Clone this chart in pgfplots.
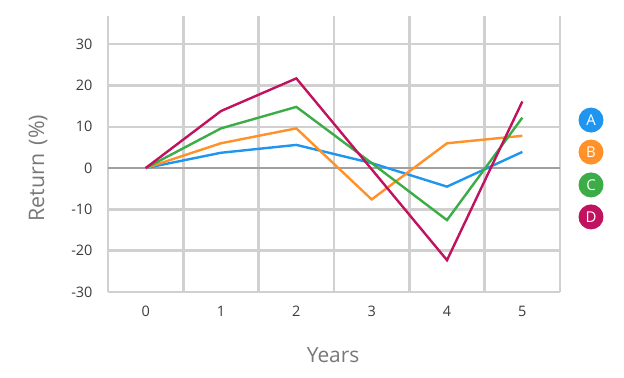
\documentclass[border=0pt]{standalone}
\usepackage{fontspec}
\setmainfont{Open Sans}
\usepackage{pgfplots}
\pgfplotsset{compat=1.18}
\definecolor{cA}{RGB}{30,150,240}
\definecolor{cB}{RGB}{255,145,40}
\definecolor{cC}{RGB}{60,172,70}
\definecolor{cD}{RGB}{192,18,95}
\definecolor{gridgray}{RGB}{208,208,208}
\definecolor{zerogray}{RGB}{160,160,160}
\definecolor{tickgray}{RGB}{60,60,60}
\definecolor{labgray}{RGB}{120,120,120}
\begin{document}
\begin{tikzpicture}
\useasboundingbox (0,0) rectangle (624bp,378bp);
\begin{axis}[
  at={(108bp,86bp)}, anchor=south west,
  scale only axis, width=452bp, height=276bp,
  xmin=-0.5, xmax=5.5, ymin=-30, ymax=36.8,
  xtick={0,...,5}, ytick={-30,-20,...,30},
  minor xtick={-0.5,0.5,...,5.5},
  xminorgrids=true, ymajorgrids=true, xmajorgrids=false,
  grid style={line width=2.4bp, color=gridgray},
  minor grid style={line width=2.4bp, color=gridgray},
  extra y ticks={0}, extra y tick labels={},
  extra y tick style={grid style={line width=2.4bp, color=zerogray}},
  axis line style={draw=none},
  tick style={draw=none},
  major tick length=0pt, minor tick length=0pt,
  /pgf/number format/assume math mode=true,
  ticklabel style={font=\fontsize{14.5}{16}\selectfont, text=tickgray},
  yticklabel style={xshift=-12bp},
  xticklabel style={yshift=-11bp},
  every axis y label/.style={at={(axis description cs:-0.155,0.449)}, rotate=90, anchor=center, font=\fontsize{21.5}{24}\selectfont, text=labgray},
  every axis x label/.style={at={(axis description cs:0.498,-0.228)}, anchor=center, font=\fontsize{21}{24}\selectfont, text=labgray},
  ylabel={Return\hspace{0.4em}(\%)},
  xlabel={Years},
  clip=false,
]
\addplot[cA, line width=2.4bp] coordinates {(0,0) (1,3.7) (2,5.6) (3,1.2) (4,-4.5) (5,3.9)};
\addplot[cB, line width=2.4bp] coordinates {(0,0) (1,6.0) (2,9.6) (3,-7.6) (4,6.0) (5,7.8)};
\addplot[cC, line width=2.4bp] coordinates {(0,0) (1,9.6) (2,14.8) (3,1.2) (4,-12.6) (5,12.2)};
\addplot[cD, line width=2.4bp] coordinates {(0,0) (1,13.8) (2,21.7) (3,-0.3) (4,-22.3) (5,16.1)};
\node[circle, fill=cA, minimum size=25bp, inner sep=0pt, text=white, font=\fontsize{15}{16}\selectfont] at (axis description cs:1.0686,0.623) {A};
\node[circle, fill=cB, minimum size=25bp, inner sep=0pt, text=white, font=\fontsize{15}{16}\selectfont] at (axis description cs:1.0686,0.507) {B};
\node[circle, fill=cC, minimum size=25bp, inner sep=0pt, text=white, font=\fontsize{15}{16}\selectfont] at (axis description cs:1.0686,0.388) {C};
\node[circle, fill=cD, minimum size=25bp, inner sep=0pt, text=white, font=\fontsize{15}{16}\selectfont] at (axis description cs:1.0686,0.272) {D};
\end{axis}
\end{tikzpicture}
\end{document}
